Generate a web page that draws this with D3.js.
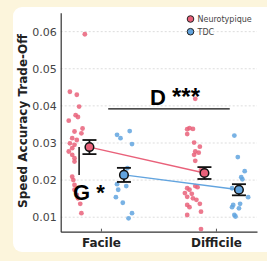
<!DOCTYPE html>
<html>
<head>
<meta charset="utf-8">
<script src="https://cdn.jsdelivr.net/npm/d3@7"></script>
<style>
    body { margin: 0; background: #fcf5dc; }
    svg { display: block; }
</style>
</head>
<body>
<div id="chart"></div>
<script>

// conditions on the x axis (0 = Facile, 1 = Difficile)
const conditions = ['Facile', 'Difficile'];
const groups = ['Neurotypique', 'TDC'];
const yTicks = [0.01, 0.02, 0.03, 0.04, 0.05, 0.06];

// individual points: [x position (condition + jitter), trade-off value]
const ntFacile = [
    [-0.14, 0.0593], [-0.27, 0.0438], [-0.21, 0.0430], [-0.19, 0.0398], [-0.22, 0.0375],
    [-0.20, 0.0370], [-0.28, 0.0360], [-0.16, 0.0339], [-0.23, 0.0331], [-0.17, 0.0326],
    [-0.25, 0.0313], [-0.21, 0.0308], [-0.27, 0.0299], [-0.23, 0.0295], [-0.25, 0.0286],
    [-0.28, 0.0277], [-0.25, 0.0268], [-0.23, 0.0259], [-0.23, 0.0250], [-0.25, 0.0209],
    [-0.24, 0.0200], [-0.23, 0.0187], [-0.23, 0.0174], [-0.21, 0.0160], [-0.20, 0.0151],
    [-0.18, 0.0136], [-0.17, 0.0111]
];
const tdcFacile = [
    [0.14, 0.0322], [0.17, 0.0313], [0.25, 0.0332], [0.27, 0.0297], [0.23, 0.0232],
    [0.14, 0.0189], [0.22, 0.0184], [0.15, 0.0174], [0.13, 0.0154], [0.19, 0.0139],
    [0.27, 0.0111], [0.24, 0.0097]
];
const ntDifficile = [
    [0.82, 0.0419], [0.77, 0.0340], [0.75, 0.0337], [0.80, 0.0338], [0.75, 0.0324],
    [0.81, 0.0301], [0.86, 0.0290], [0.82, 0.0277], [0.85, 0.0274], [0.81, 0.0268],
    [0.82, 0.0252], [0.87, 0.0227], [0.75, 0.0178], [0.77, 0.0174], [0.82, 0.0184],
    [0.84, 0.0181], [0.73, 0.0165], [0.79, 0.0163], [0.75, 0.0155], [0.80, 0.0151],
    [0.83, 0.0147], [0.75, 0.0133], [0.77, 0.0127], [0.86, 0.0136], [0.75, 0.0106],
    [0.87, 0.0068], [0.87, 0.0115]
];
const tdcDifficile = [
    [1.16, 0.0320], [1.19, 0.0262], [1.25, 0.0224], [1.22, 0.0208], [1.23, 0.0202],
    [1.14, 0.0178], [1.28, 0.0154], [1.15, 0.0133], [1.21, 0.0136], [1.14, 0.0127],
    [1.20, 0.0124], [1.16, 0.0106], [1.17, 0.0102]
];

// group means and standard errors (Facile, Difficile)
const meanNT = [0.0289, 0.0219];
const seNT = [0.0019, 0.0016];
const meanTDC = [0.0214, 0.0174];
const seTDC = [0.0019, 0.0015];
const offsetNT = -0.1;
const offsetTDC = 0.2;

const colors = {Neurotypique: '#e9617a', TDC: '#62a4df'};

function drawChart(rootDom){
    const W = 267, H = 261;

    const svg = d3.select(rootDom)
        .append('svg')
        .attr('width', W)
        .attr('height', H);

    // white card
    svg.append('rect')
        .attr('x', 13).attr('y', 7)
        .attr('width', 270).attr('height', 245)
        .attr('rx', 9)
        .style('fill', '#ffffff');

    const x = d3.scaleLinear().domain([-0.35, 1.357]).range([60.7, 257]);
    const y = d3.scaleLinear().domain([0.0061, 0.0651]).range([231.7, 12.7]);

    // gridlines
    svg.selectAll('.grid')
        .data(yTicks)
        .enter().append('line')
        .attr('class', 'grid')
        .attr('x1', x.range()[0]).attr('x2', x.range()[1])
        .attr('y1', d => y(d)).attr('y2', d => y(d))
        .style('stroke', '#d4d4d4')
        .style('stroke-width', '0.8px')
        .style('stroke-dasharray', '2,2');

    // y axis
    const yAxis = svg.append('g')
        .attr('transform', `translate(${x.range()[0]},0)`)
        .call(d3.axisLeft(y).tickValues(yTicks).tickFormat(d3.format('.2f')).tickSize(0).tickPadding(4));
    yAxis.select('.domain').style('stroke', '#333').style('stroke-width', '1.2px');
    yAxis.selectAll('text')
        .style('font-family', 'DejaVu Sans')
        .style('font-size', '11px')
        .style('fill', '#444');

    // x axis
    const xAxis = svg.append('g')
        .attr('transform', `translate(0,${y.range()[0]})`)
        .call(d3.axisBottom(x).tickValues([0, 1]).tickFormat(d => conditions[d]).tickSizeInner(-3).tickSizeOuter(0).tickPadding(7));
    xAxis.select('.domain').style('stroke', '#333').style('stroke-width', '1.2px');
    xAxis.selectAll('.tick line').style('stroke', '#555');
    xAxis.selectAll('text')
        .style('font-family', 'DejaVu Sans')
        .style('font-weight', 'bold')
        .style('font-size', '12px')
        .style('fill', '#222');

    svg.append('text')
        .attr('transform', `translate(27,121) rotate(-90)`)
        .attr('text-anchor', 'middle')
        .style('font-family', 'DejaVu Sans')
        .style('font-weight', 'bold')
        .style('font-size', '12px')
        .style('fill', '#222')
        .text('Speed Accuracy Trade-Off');

    // raw points
    const pointSets = [
        {pts: ntFacile, g: 'Neurotypique'},
        {pts: ntDifficile, g: 'Neurotypique'},
        {pts: tdcFacile, g: 'TDC'},
        {pts: tdcDifficile, g: 'TDC'}
    ];
    pointSets.forEach(s => {
        svg.selectAll(null)
            .data(s.pts)
            .enter().append('circle')
            .attr('cx', d => x(d[0]))
            .attr('cy', d => y(d[1]))
            .attr('r', 2.4)
            .style('fill', colors[s.g])
            .style('fill-opacity', 0.85);
    });

    // lines between the means
    const meanSets = [
        {m: meanNT, se: seNT, off: offsetNT, g: 'Neurotypique'},
        {m: meanTDC, se: seTDC, off: offsetTDC, g: 'TDC'}
    ];
    meanSets.forEach(s => {
        svg.append('line')
            .attr('x1', x(0 + s.off)).attr('y1', y(s.m[0]))
            .attr('x2', x(1 + s.off)).attr('y2', y(s.m[1]))
            .style('stroke', colors[s.g])
            .style('stroke-width', '1.4px');
    });

    // error bars + mean markers
    meanSets.forEach(s => {
        s.m.forEach((m, i) => {
            const cx = x(i + s.off);
            const g = svg.append('g');
            g.append('line')
                .attr('x1', cx).attr('x2', cx)
                .attr('y1', y(m - s.se[i])).attr('y2', y(m + s.se[i]));
            [m - s.se[i], m + s.se[i]].forEach(v => {
                g.append('line')
                    .attr('x1', cx - 7).attr('x2', cx + 7)
                    .attr('y1', y(v)).attr('y2', y(v));
            });
            g.selectAll('line')
                .style('stroke', '#111')
                .style('stroke-width', '1.8px');
            g.append('circle')
                .attr('cx', cx).attr('cy', y(m))
                .attr('r', 4.3)
                .style('fill', colors[s.g])
                .style('stroke', '#111')
                .style('stroke-width', '1.5px');
        });
    });

    // annotations
    const annFont = '"Liberation Sans Narrow", "Liberation Sans", sans-serif';
    // condition effect
    svg.append('line')
        .attr('x1', x(0.063)).attr('x2', x(1.12))
        .attr('y1', y(0.0392)).attr('y2', y(0.0392))
        .style('stroke', '#111')
        .style('stroke-width', '1.3px');
    const dTxt = svg.append('text')
        .attr('x', 150).attr('y', y(0.0392) - 4)
        .style('font-family', annFont)
        .style('font-weight', 'bold')
        .style('font-size', '22px')
        .style('fill', '#000');
    dTxt.append('tspan').text('D ');
    dTxt.append('tspan').style('font-size', '24px').text('***');

    // group effect
    svg.append('line')
        .attr('x1', x(-0.19)).attr('x2', x(-0.19))
        .attr('y1', y(meanNT[0])).attr('y2', y(meanTDC[0]))
        .style('stroke', '#111')
        .style('stroke-width', '1.5px');
    svg.append('text')
        .attr('x', 73).attr('y', 200)
        .style('font-family', annFont)
        .style('font-weight', 'bold')
        .style('font-size', '22px')
        .style('fill', '#000')
        .text('G *');

    // legend
    const legend = svg.selectAll('.legend')
        .data(groups)
        .enter().append('g')
        .attr('class', 'legend')
        .attr('transform', (d, i) => `translate(190.5,${19 + i * 12.7})`);
    legend.append('circle')
        .attr('r', 3.3)
        .style('fill', d => colors[d])
        .style('stroke', '#222')
        .style('stroke-width', '1px');
    legend.append('text')
        .attr('x', 7).attr('y', 3)
        .style('font-family', 'DejaVu Sans')
        .style('font-size', '8px')
        .style('fill', '#444')
        .text(d => d);
}

drawChart(document.getElementById('chart'));
</script>
</body>
</html>
